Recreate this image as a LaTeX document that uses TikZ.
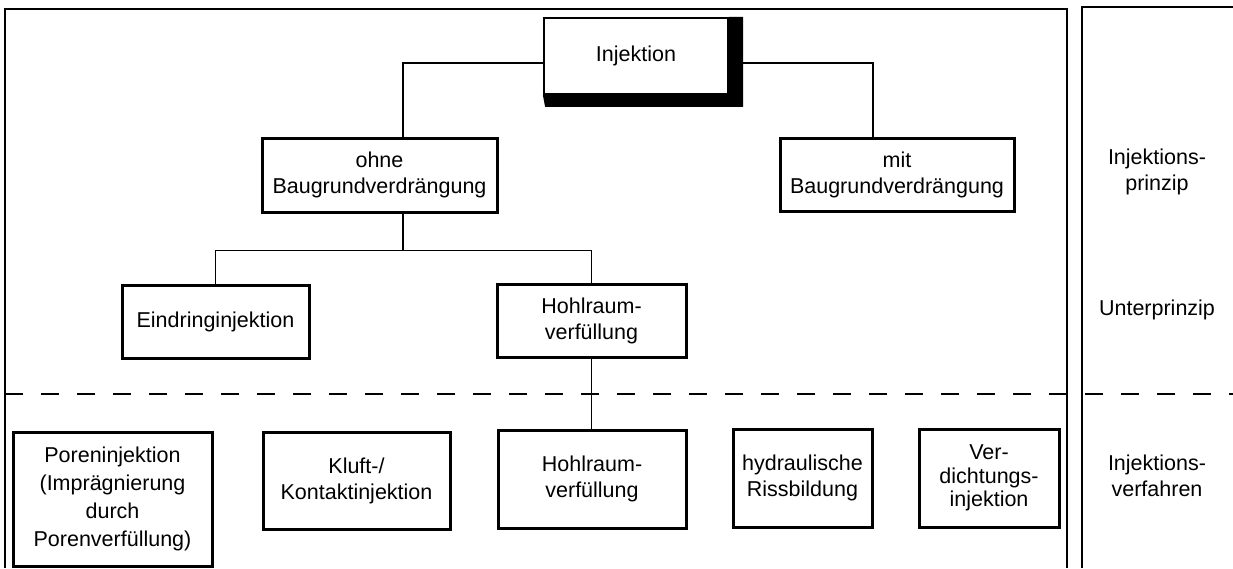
\documentclass[tikz,border=0pt]{standalone}
\usepackage{fontspec}
\setmainfont{Liberation Sans}
\begin{document}
\begin{tikzpicture}[x=1pt,y=-1pt,
  box/.style={draw, line width=3pt, rectangle, inner sep=0pt, align=center,
    font=\fontsize{21.5}{26}\selectfont},
  lbl/.style={inner sep=0pt, align=center, font=\fontsize{21.5}{26}\selectfont},
  conn/.style={line width=1.4pt},
  frame/.style={line width=1.6pt},
  sep/.style={line width=1.7pt, dash pattern=on 18pt off 18pt}]
\useasboundingbox (0,0) rectangle (1233,568);

% frames
\draw[frame] (5,568) -- (5,9) -- (1067,9) -- (1067,568);
\draw[frame] (1082,568) -- (1082,7) -- (1233,7);
\draw[sep] (5,394) -- (1233,394);

% nodes
\node[box, line width=2.2pt, minimum width=184pt, minimum height=76pt] (inj) at (636,56) {Injektion};
\fill (inj.north east) -- ++(14,0) -- ++(0,90) -- ++(-198,0) -- (inj.south west) -- (inj.south east) -- cycle;

\node[box, minimum width=235pt, minimum height=74pt] (ohne) at (379.5,175) {ohne\\Baugrundverdrängung};
\node[box, minimum width=234pt, minimum height=73pt] (mit) at (897,174.5) {mit\\Baugrundverdrängung};
\node[box, minimum width=187pt, minimum height=73pt] (eind) at (215.5,321.5) {Eindringinjektion};
\node[box, minimum width=189pt, minimum height=73pt] (hohl1) at (591.5,320.5) {Hohlraum-\\verfüllung};

\node[box, minimum width=199pt, minimum height=134pt, font=\fontsize{21.5}{28}\selectfont] (poren) at (112.5,499) {Poreninjektion\\(Imprägnierung\\durch\\Porenverfüllung)};
\node[box, minimum width=187pt, minimum height=97pt] (kluft) at (356.5,480.5) {Kluft-/\\Kontaktinjektion};
\node[box, minimum width=188pt, minimum height=98pt] (hohl2) at (592,479) {Hohlraum-\\verfüllung};
\node[box, minimum width=139pt, minimum height=98pt] (hydr) at (802.5,478) {hydraulische\\Rissbildung};
\node[box, minimum width=140pt, minimum height=98pt, font=\fontsize{21.5}{23.5}\selectfont] (verd) at (989,478) {Ver-\\dichtungs-\\injektion};

% right column labels
\node[lbl] (l1) at (1157,172) {Injektions-\\prinzip};
\node[lbl] (l2) at (1157,310) {Unterprinzip};
\node[lbl] (l3) at (1157,476) {Injektions-\\verfahren};

% connectors
\draw[conn] ([yshift=-7pt]inj.west) -| ([xshift=23.5pt]ohne.north);
\draw[conn] ([xshift=14pt,yshift=-7pt]inj.east) -| ([xshift=-24pt]mit.north);
\draw[conn] ([xshift=23.5pt]ohne.south) -- ++(0,37) coordinate (j1);
\draw[conn] (eind.north) |- (j1) -| (hohl1.north);
\draw[conn] (hohl1.south) -- (hohl1.south |- hohl2.north);
\end{tikzpicture}
\end{document}
